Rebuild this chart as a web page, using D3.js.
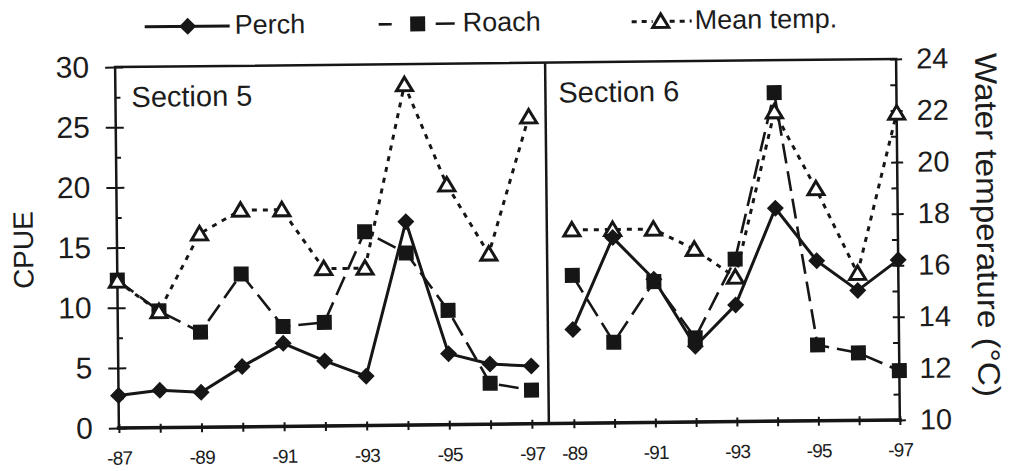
<!DOCTYPE html>
<html><head><meta charset="utf-8">
<script src="https://cdn.jsdelivr.net/npm/d3@7"></script>
<style>
body{margin:0;background:#fff}
svg{display:block}
text{font-family:"Liberation Sans",Arial,Helvetica,sans-serif;fill:#1c1c1c}
</style>
</head><body>
<svg id="c" width="1011" height="471"></svg>
<script>
// ---- data ----
const years5 = [1987,1988,1989,1990,1991,1992,1993,1994,1995,1996,1997];
const perch5 = [2.7,3.1,2.9,5.0,6.9,5.4,4.1,16.9,5.9,5.0,4.8];
const roach5 = [12.3,9.7,7.9,12.7,8.3,8.6,16.1,14.3,9.5,3.4,2.8];
const temp5  = [15.7,14.5,17.5,18.4,18.4,16.1,16.1,23.2,19.3,16.6,21.9];

const years6 = [1989,1990,1991,1992,1993,1994,1995,1996,1997];
const perch6 = [7.8,15.4,11.9,6.3,9.7,17.7,13.3,10.8,13.3];
const roach6 = [12.3,6.7,11.7,7.0,13.5,27.3,6.3,5.6,4.1];
const temp6  = [17.5,17.5,17.5,16.7,15.6,22.0,19.0,15.7,21.9];

const cpueTicks = [0,5,10,15,20,25,30];
const tempTicks = [10,12,14,16,18,20,22,24];
const xLabels5 = ["-87","-89","-91","-93","-95","-97"];
const xLabels6 = ["-89","-91","-93","-95","-97"];
const seriesNames = ["Perch","Roach","Mean temp."];
const panelTitles = ["Section 5","Section 6"];
const yTitleLeft = "CPUE";
const yTitleRight = "Water temperature (°C)";

// ---- layout ----
const L = 117, M = 547, R = 898, T = 63, B = 424;
const ink = "#161616";

const x5 = d3.scaleLinear().domain([1987,1997]).range([L,530]);
const x6 = d3.scaleLinear().domain([1989,1997]).range([572,R]);
const yL = d3.scaleLinear().domain([0,30]).range([B,T]);
const yR = d3.scaleLinear().domain([10,24]).range([B,T]);

const svg = d3.select("#c");
const g = svg.append("g").attr("transform","rotate(-0.6 508 245)");

function styleAxis(sel, fs, ls){
  sel.select(".domain").remove();
  sel.selectAll("line").attr("stroke",ink).attr("stroke-width",2);
  sel.selectAll("text").attr("font-size",fs).attr("fill","#1c1c1c")
     .attr("letter-spacing", ls || 0)
     .attr("font-family","'Liberation Sans',Arial,sans-serif");
}

// left axis (outer ticks + labels)
g.append("g").attr("transform",`translate(${L},0)`)
  .call(d3.axisLeft(yL).tickValues(cpueTicks).tickSize(10).tickPadding(16))
  .call(s=>styleAxis(s,30));
g.append("g").attr("transform",`translate(${L},0)`)
  .call(d3.axisRight(yL).tickValues(cpueTicks).tickSize(8).tickFormat(()=>""))
  .call(s=>styleAxis(s,1));
g.append("g").attr("transform",`translate(${L},0)`)
  .call(d3.axisRight(yL).tickValues(d3.range(2.5,30,5)).tickSize(5).tickFormat(()=>""))
  .call(s=>styleAxis(s,1));

// right axis
g.append("g").attr("transform",`translate(${R},0)`)
  .call(d3.axisRight(yR).tickValues(tempTicks).tickSize(6).tickPadding(14))
  .call(s=>styleAxis(s,29));
g.append("g").attr("transform",`translate(${R},0)`)
  .call(d3.axisLeft(yR).tickValues(d3.range(10,24.01,1)).tickSize(6).tickFormat(()=>""))
  .call(s=>styleAxis(s,1));

// bottom axes
function lab(list){ return d => { const s = "-" + String(d).slice(2); return list.includes(s) ? s : ""; }; }
g.append("g").attr("transform",`translate(0,${B})`)
  .call(d3.axisBottom(x5).tickValues(years5).tickSize(5).tickPadding(18).tickFormat(lab(xLabels5)))
  .call(s=>styleAxis(s,19,-0.8));
g.append("g").attr("transform",`translate(0,${B})`)
  .call(d3.axisTop(x5).tickValues(years5).tickSize(4).tickFormat(()=>""))
  .call(s=>styleAxis(s,1));
g.append("g").attr("transform",`translate(0,${B})`)
  .call(d3.axisBottom(x6).tickValues(years6).tickSize(5).tickPadding(18).tickFormat(lab(xLabels6)))
  .call(s=>styleAxis(s,19,-0.8));
g.append("g").attr("transform",`translate(0,${B})`)
  .call(d3.axisTop(x6).tickValues(years6).tickSize(4).tickFormat(()=>""))
  .call(s=>styleAxis(s,1));

// frame
g.append("rect").attr("x",L).attr("y",T).attr("width",R-L).attr("height",B-T)
  .attr("fill","none").attr("stroke",ink).attr("stroke-width",2.5);
g.append("line").attr("x1",M).attr("x2",M).attr("y1",T).attr("y2",B)
  .attr("stroke",ink).attr("stroke-width",2.5);
g.append("line").attr("x1",L-2).attr("x2",R+2).attr("y1",B).attr("y2",B)
  .attr("stroke",ink).attr("stroke-width",3.5);

// axis titles
g.append("text").attr("transform",`translate(33,245) rotate(-90)`)
  .attr("text-anchor","middle").attr("font-size",28).text(yTitleLeft);
g.append("text").attr("transform",`translate(977,230) rotate(90)`)
  .attr("text-anchor","middle").attr("font-size",31).attr("textLength",344)
  .attr("lengthAdjust","spacingAndGlyphs").text(yTitleRight);

// panel titles
g.append("text").attr("x",133).attr("y",103).attr("font-size",29).text(panelTitles[0]);
g.append("text").attr("x",560).attr("y",103).attr("font-size",29).text(panelTitles[1]);

// markers
const diamond = "M0,-8.5L8.5,0L0,8.5L-8.5,0Z";
const square = "M-7.5,-7.5H7.5V7.5H-7.5Z";
const tri = "M0,-7.5L8,6L-8,6Z";
const styles = {
  perch:{dash:null, w:3, path:diamond, fill:ink, sw:0},
  roach:{dash:"20,8", w:2.6, path:square, fill:ink, sw:0},
  temp:{dash:"5,6", w:3, path:tri, fill:"#fff", sw:3}
};

function drawSeries(xs, years, vals, y, st){
  const pts = years.map((yr,i)=>[xs(yr), y(vals[i])]);
  g.append("path").attr("d", d3.line()(pts)).attr("fill","none")
    .attr("stroke",ink).attr("stroke-width",st.w)
    .attr("stroke-dasharray",st.dash).attr("stroke-linejoin","round");
  g.selectAll(null).data(pts).enter().append("path")
    .attr("transform",d=>`translate(${d[0]},${d[1]})`).attr("d",st.path)
    .attr("fill",st.fill).attr("stroke",ink).attr("stroke-width",st.sw)
    .attr("stroke-linejoin","miter");
}

drawSeries(x5, years5, roach5, yL, styles.roach);
drawSeries(x5, years5, temp5, yR, styles.temp);
drawSeries(x5, years5, perch5, yL, styles.perch);
drawSeries(x6, years6, roach6, yL, styles.roach);
drawSeries(x6, years6, temp6, yR, styles.temp);
drawSeries(x6, years6, perch6, yL, styles.perch);

// legend
const ly = 23, lty = 31;
const legend = [
  {segs:[[147,232]], mx:190, tx:237, st:styles.perch, dash:null},
  {segs:[[381,394],[438,457]], mx:420, tx:465, st:styles.roach, dash:null},
  {segs:[[634,655],[672,694]], mx:663, tx:697, st:styles.temp, dash:"5,5"}
];
legend.forEach((d,i)=>{
  d.segs.forEach(s=>{
    g.append("line").attr("x1",s[0]).attr("x2",s[1]).attr("y1",ly).attr("y2",ly)
      .attr("stroke",ink).attr("stroke-width",d.st.w).attr("stroke-dasharray",d.dash);
  });
  g.append("path").attr("transform",`translate(${d.mx},${ly})`).attr("d",d.st.path)
    .attr("fill",d.st.fill).attr("stroke",ink).attr("stroke-width",d.st.sw);
  g.append("text").attr("x",d.tx).attr("y",lty).attr("font-size",27).text(seriesNames[i]);
});
</script>
</body></html>
